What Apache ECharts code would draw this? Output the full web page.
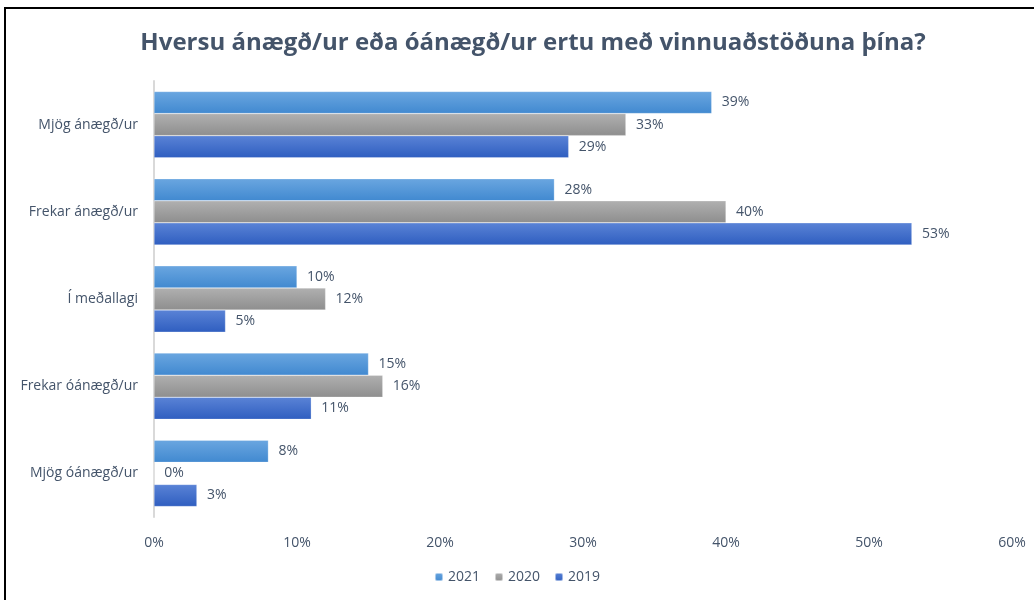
<!DOCTYPE html>
<html>
<head>
<meta charset="utf-8">
<script src="https://cdn.jsdelivr.net/npm/echarts@6/dist/echarts.min.js"></script>
<style>
  html, body { margin: 0; padding: 0; background: #fff; }
  #chart { width: 1034px; height: 600px; }
</style>
</head>
<body>
<div id="chart"></div>
<script>
// chart data
const categories = ['Mjög ánægð/ur', 'Frekar ánægð/ur', 'Í meðallagi', 'Frekar óánægð/ur', 'Mjög óánægð/ur'];
const values2021 = [39, 28, 10, 15, 8];
const values2020 = [33, 40, 12, 16, 0];
const values2019 = [29, 53, 5, 11, 3];
const xTicks = [0, 10, 20, 30, 40, 50, 60];

const textColor = '#44546a';
const font = 'Open Sans';

const grad = (top, bottom) => new echarts.graphic.LinearGradient(0, 0, 0, 1, [
  { offset: 0, color: top },
  { offset: 1, color: bottom }
]);

const makeSeries = (name, data, top, bottom) => ({
  name,
  type: 'bar',
  data,
  barGap: '0%',
  barCategoryGap: '24%',
  itemStyle: { color: grad(top, bottom), borderColor: 'rgba(255,255,255,0.5)', borderWidth: 0.5 },
  label: {
    show: true,
    position: 'right',
    distance: 10,
    formatter: '{c}%',
    color: textColor,
    fontFamily: font,
    fontSize: 14
  }
});

const chart = echarts.init(document.getElementById('chart'));

chart.setOption({
  animation: false,
  title: {
    text: 'Hversu ánægð/ur eða óánægð/ur ertu með vinnuaðstöðuna þína?',
    left: 528,
    textAlign: 'center',
    top: 26,
    textStyle: { color: textColor, fontFamily: font, fontWeight: 'bold', fontSize: 24 }
  },
  legend: {
    bottom: 11,
    left: 'center',
    itemWidth: 8,
    itemHeight: 8,
    itemGap: 14,
    textStyle: { color: textColor, fontFamily: font, fontSize: 14 },
    data: ['2021', '2020', '2019']
  },
  grid: { left: 154, right: 22, top: 81, bottom: 83, containLabel: false },
  xAxis: {
    type: 'value',
    min: xTicks[0],
    max: xTicks[xTicks.length - 1],
    interval: 10,
    axisLine: { show: false },
    axisTick: { show: false },
    splitLine: { show: false },
    axisLabel: { formatter: '{value}%', color: textColor, fontFamily: font, fontSize: 14, margin: 19 }
  },
  yAxis: {
    type: 'category',
    data: categories,
    inverse: true,
    axisLine: { lineStyle: { color: '#d9d9d9', width: 2 } },
    axisTick: { show: false },
    axisLabel: { color: textColor, fontFamily: font, fontSize: 14, margin: 16 }
  },
  graphic: [
    {
      type: 'polyline',
      shape: { points: [[5, 600], [5, 8], [1034, 8]] },
      style: { stroke: '#000', lineWidth: 2, fill: null }
    }
  ],
  series: [
    makeSeries('2021', values2021, '#6aa6e0', '#4189d0'),
    makeSeries('2020', values2020, '#b0b0b0', '#8e8e8e'),
    makeSeries('2019', values2019, '#5a83d6', '#2f5ec0')
  ]
});
</script>
</body>
</html>
